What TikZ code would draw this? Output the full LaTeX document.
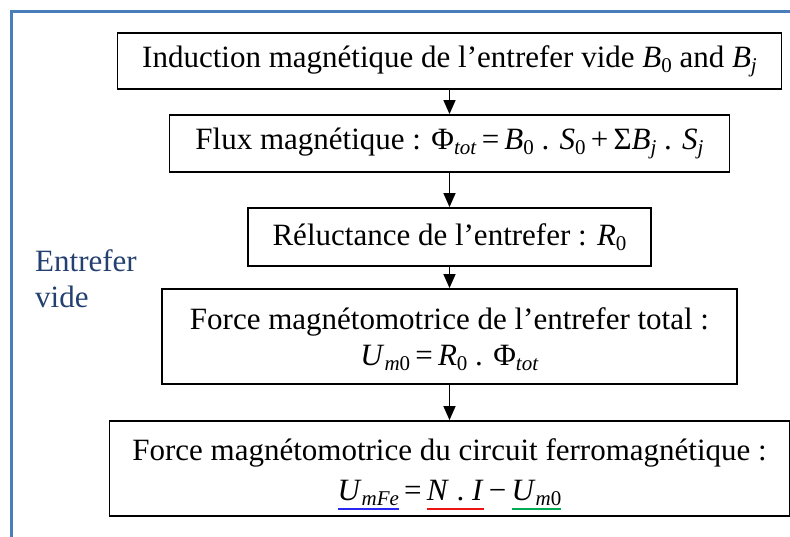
\documentclass[tikz,border=0pt]{standalone}
\usepackage{fontspec}
\setmainfont{Liberation Serif}
\usepackage{tikz}
\usetikzlibrary{arrows.meta}

\definecolor{framecol}{RGB}{74,126,187}
\definecolor{lblcol}{RGB}{36,64,112}
\definecolor{ulblue}{RGB}{40,40,240}
\definecolor{ulred}{RGB}{235,20,20}
\definecolor{ulgreen}{RGB}{0,170,80}

\newcommand{\sbs}[1]{\raisebox{-5pt}{\fontsize{21}{21}\selectfont #1}}
\newcommand{\colul}[2]{\setbox0\hbox{#2}\rlap{\color{#1}\rule[-10pt]{\wd0}{2.5pt}}\box0}

\begin{document}
\begin{tikzpicture}[x=1pt,y=-1pt,
    box/.style={draw=black, line width=1.8pt, inner sep=0pt, align=center,
      font=\fontsize{31}{36}\selectfont},
    flow/.style={line width=1.4pt, -{Triangle[length=14pt,width=12pt]}},
    frame/.style={draw=framecol, line width=2.6pt}]
      \useasboundingbox (0,0) rectangle (790,536);
      \draw[frame] (11.5,560) -- (11.5,11.5) -- (810,11.5);
      \node[anchor=base west, align=left, inner sep=0pt, text=lblcol,
        font=\fontsize{31}{36}\selectfont] (gap) at (35,307) {Entrefer\\vide};
      \node[box, minimum width=664pt, minimum height=56pt] (induc) at (449.5,61)
        {Induction magnétique de l’entrefer vide \textit{B}\sbs{0} and \textit{B}\sbs{\textit{j}}};
      \node[box, minimum width=560pt, minimum height=57pt] (flux) at (449.5,143.5)
        {Flux magnétique : Φ\sbs{\textit{tot}}\,=\,\textit{B}\sbs{0} . \textit{S}\sbs{0}\,+\,Σ\textit{B}\sbs{\textit{j}} . \textit{S}\sbs{\textit{j}}};
      \node[box, minimum width=403pt, minimum height=58pt] (reluc) at (449.5,237)
        {Réluctance de l’entrefer : \textit{R}\sbs{0}};
      \node[box, minimum width=575pt, minimum height=95pt] (fmm0) at (449.5,336.5)
        {\rule{0pt}{27pt}Force magnétomotrice de l’entrefer total :\\
         \textit{U}\sbs{\textit{m}0}\,=\,\textit{R}\sbs{0} . Φ\sbs{\textit{tot}}};
      \node[box, minimum width=680pt, minimum height=95pt] (fmmfe) at (449.5,468.5)
        {\rule{0pt}{33pt}Force magnétomotrice du circuit ferromagnétique :\\[4pt]
         \colul{ulblue}{\textit{U}\sbs{\textit{mFe}}}\,=\,\colul{ulred}{\textit{N} . \textit{I}}\,−\,\colul{ulgreen}{\textit{U}\sbs{\textit{m}0}}};
      \draw[flow] (induc) -- (flux);
      \draw[flow] (flux) -- (reluc);
      \draw[flow] (reluc) -- (fmm0);
      \draw[flow] (fmm0) -- (fmmfe);
\end{tikzpicture}
\end{document}
